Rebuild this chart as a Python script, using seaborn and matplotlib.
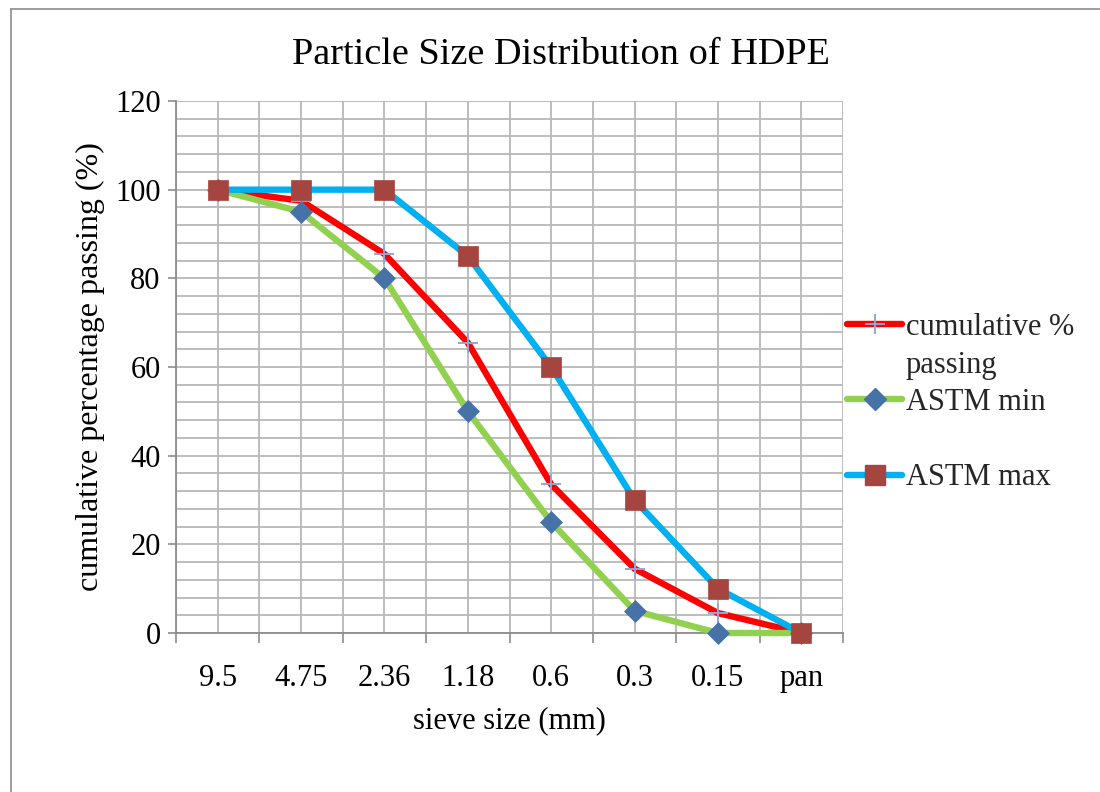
import matplotlib
matplotlib.use("Agg")
import matplotlib.pyplot as plt
from matplotlib.lines import Line2D
import seaborn as sns
import numpy as np
import pandas as pd

# ---- data ----
sieve_labels = ["9.5", "4.75", "2.36", "1.18", "0.6", "0.3", "0.15", "pan"]
cumulative_passing = [100, 97.5, 85.5, 65.5, 33.5, 14.5, 4.5, 0]
astm_min = [100, 95, 80, 50, 25, 5, 0, 0]
astm_max = [100, 100, 100, 85, 60, 30, 10, 0]
series_names = ["cumulative %\npassing", "ASTM min", "ASTM max"]
title = "Particle Size Distribution of HDPE"
xlabel = "sieve size (mm)"
ylabel = "cumulative percentage passing (%)"
y_ticks = [0, 20, 40, 60, 80, 100, 120]

sns.set_theme(style="white")
plt.rcParams["font.family"] = ["Liberation Serif", "DejaVu Serif"]

W, H = 1100, 792
FS = 22
fig = plt.figure(figsize=(W / 100, H / 100), dpi=100)
ax = fig.add_axes([176 / W, 1 - 633 / H, (843 - 176) / W, (633 - 101) / H])

pos = np.arange(len(sieve_labels))
df = pd.DataFrame({"pos": pos, "cum": cumulative_passing, "mn": astm_min, "mx": astm_max})

RED = "#FF0000"
GREEN = "#92D050"
BLUE = "#00B0F0"
DIAMOND = "#4672A8"
SQUARE = "#A6453F"
CROSS = "#8FA8D8"
LW = 4.6

sns.lineplot(data=df, x="pos", y="cum", ax=ax, color=RED, lw=LW, sort=False,
             marker="+", markersize=14, markeredgewidth=1.4,
             markeredgecolor=CROSS, zorder=3, clip_on=False)
sns.lineplot(data=df, x="pos", y="mn", ax=ax, color=GREEN, lw=LW, sort=False,
             marker="D", markersize=11.5, markerfacecolor=DIAMOND,
             markeredgecolor=DIAMOND, markeredgewidth=0.5, zorder=4, clip_on=False)
sns.lineplot(data=df, x="pos", y="mx", ax=ax, color=BLUE, lw=LW, sort=False,
             marker="s", markersize=14.5, markerfacecolor=SQUARE,
             markeredgecolor=SQUARE, markeredgewidth=0.5, zorder=5, clip_on=False)

ax.set_xlim(-0.5, len(sieve_labels) - 0.5)
ax.set_ylim(0, 120)

# grid
GRID = "#B8B8B8"
ax.set_yticks(y_ticks)
ax.set_yticks(np.arange(0, 121, 4), minor=True)
ax.yaxis.grid(True, which="both", color=GRID, lw=1.3, zorder=0)
ax.set_xticks(pos)
ax.set_xticklabels(sieve_labels)
ax.set_xticks(np.arange(-0.5, len(sieve_labels), 1.0), minor=True)
ax.xaxis.grid(False, which="both")
for xv in np.arange(-0.5, len(sieve_labels), 0.5):
    ax.axvline(xv, color=GRID, lw=1.3, zorder=0)
ax.set_axisbelow(True)

for s in ["top", "right"]:
    ax.spines[s].set_visible(False)
for s in ["left", "bottom"]:
    ax.spines[s].set_color("#8C8C8C")
    ax.spines[s].set_linewidth(1.3)

ax.tick_params(axis="y", which="major", direction="out", length=6, width=1.2,
               color="#8C8C8C", left=True, labelsize=FS, pad=5, labelcolor="black")
ax.tick_params(axis="y", which="minor", length=0)
ax.tick_params(axis="x", which="major", length=0, labelsize=FS, pad=22, labelcolor="black")
ax.tick_params(axis="x", which="minor", direction="out", length=7, width=1.2,
               color="#8C8C8C", bottom=True)

ax.set_xlabel(xlabel, fontsize=FS, labelpad=10, color="black")
ax.set_ylabel(ylabel, fontsize=23, labelpad=7, color="black")
fig.text(561 / W, 1 - 55 / H, title, fontsize=27.5, ha="center", va="center", color="black")

# legend (5 rows; 2-line first label occupies two slots)
h_cum = Line2D([], [], color=RED, lw=LW, marker="+", markersize=14,
               markeredgewidth=1.4, markeredgecolor=CROSS, solid_capstyle="round")
h_min = Line2D([], [], color=GREEN, lw=LW, marker="D", markersize=11.5,
               markerfacecolor=DIAMOND, markeredgecolor=DIAMOND, solid_capstyle="round")
h_max = Line2D([], [], color=BLUE, lw=LW, marker="s", markersize=14.5,
               markerfacecolor=SQUARE, markeredgecolor=SQUARE, solid_capstyle="round")
blank = Line2D([], [], color="none", lw=0)
first, second = series_names[0].split("\n")
leg = fig.legend([h_cum, blank, h_min, blank, h_max],
                 [first, second, series_names[1], " ", series_names[2]],
                 loc="upper left", bbox_to_anchor=(847 / W, 1 - 313 / H),
                 frameon=False, fontsize=FS, handlelength=1.8, handletextpad=0.12,
                 labelspacing=0.28, borderaxespad=0, borderpad=0)

# outer chart border (top and left visible)
fig.add_artist(Line2D([11 / W, 11 / W], [0, 1 - 9 / H], transform=fig.transFigure,
                      color="#8C8C8C", lw=1.2))
fig.add_artist(Line2D([11 / W, 1], [1 - 9 / H, 1 - 9 / H], transform=fig.transFigure,
                      color="#8C8C8C", lw=1.2))

fig.savefig("out.png", dpi=100)
